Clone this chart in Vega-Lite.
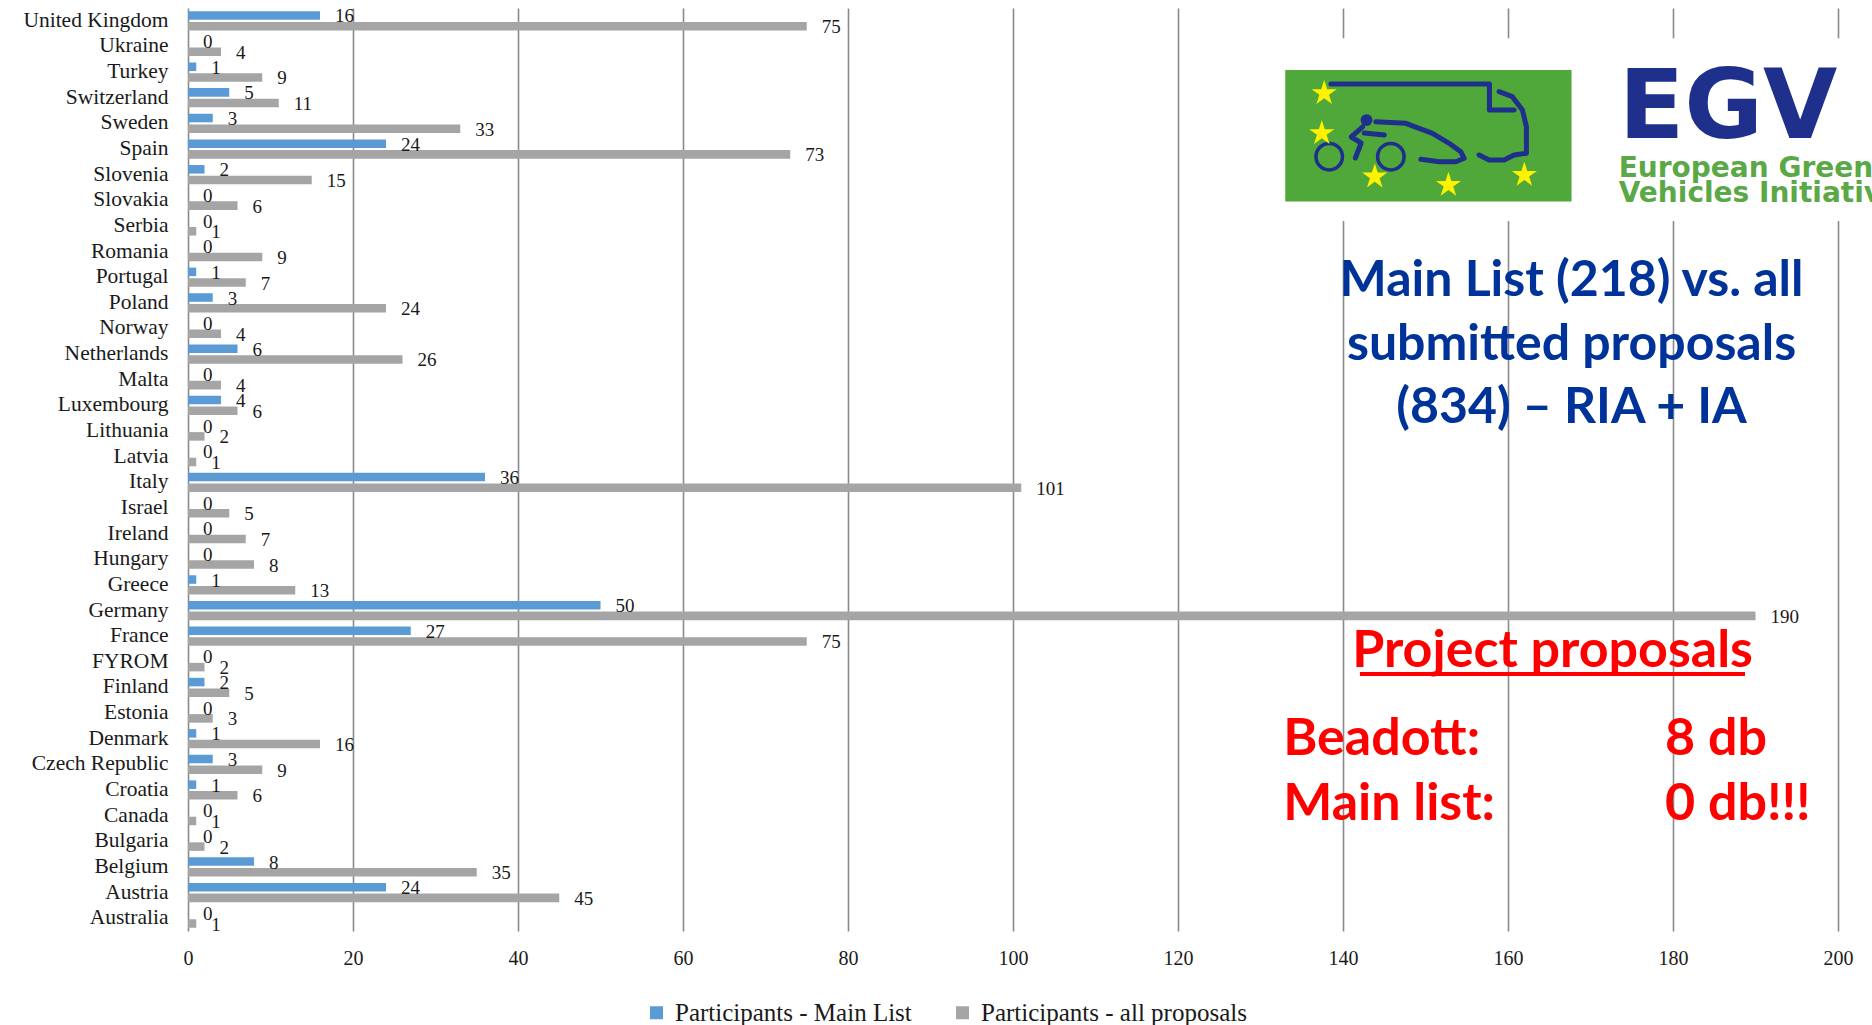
{
  "$schema": "https://vega.github.io/schema/vega-lite/v6.json",
  "autosize": {"type": "none"},
  "padding": {"left": 188, "top": 8, "right": 34, "bottom": 94},
  "width": 1650,
  "height": 923,
  "background": "white",
  "config": {"view": {"stroke": null}},
  "datasets": {
    "bars": [
      {"country": "United Kingdom", "series": "Participants - Main List", "value": 16},
      {"country": "United Kingdom", "series": "Participants - all proposals", "value": 75},
      {"country": "Ukraine", "series": "Participants - Main List", "value": 0},
      {"country": "Ukraine", "series": "Participants - all proposals", "value": 4},
      {"country": "Turkey", "series": "Participants - Main List", "value": 1},
      {"country": "Turkey", "series": "Participants - all proposals", "value": 9},
      {"country": "Switzerland", "series": "Participants - Main List", "value": 5},
      {"country": "Switzerland", "series": "Participants - all proposals", "value": 11},
      {"country": "Sweden", "series": "Participants - Main List", "value": 3},
      {"country": "Sweden", "series": "Participants - all proposals", "value": 33},
      {"country": "Spain", "series": "Participants - Main List", "value": 24},
      {"country": "Spain", "series": "Participants - all proposals", "value": 73},
      {"country": "Slovenia", "series": "Participants - Main List", "value": 2},
      {"country": "Slovenia", "series": "Participants - all proposals", "value": 15},
      {"country": "Slovakia", "series": "Participants - Main List", "value": 0},
      {"country": "Slovakia", "series": "Participants - all proposals", "value": 6},
      {"country": "Serbia", "series": "Participants - Main List", "value": 0},
      {"country": "Serbia", "series": "Participants - all proposals", "value": 1},
      {"country": "Romania", "series": "Participants - Main List", "value": 0},
      {"country": "Romania", "series": "Participants - all proposals", "value": 9},
      {"country": "Portugal", "series": "Participants - Main List", "value": 1},
      {"country": "Portugal", "series": "Participants - all proposals", "value": 7},
      {"country": "Poland", "series": "Participants - Main List", "value": 3},
      {"country": "Poland", "series": "Participants - all proposals", "value": 24},
      {"country": "Norway", "series": "Participants - Main List", "value": 0},
      {"country": "Norway", "series": "Participants - all proposals", "value": 4},
      {"country": "Netherlands", "series": "Participants - Main List", "value": 6},
      {"country": "Netherlands", "series": "Participants - all proposals", "value": 26},
      {"country": "Malta", "series": "Participants - Main List", "value": 0},
      {"country": "Malta", "series": "Participants - all proposals", "value": 4},
      {"country": "Luxembourg", "series": "Participants - Main List", "value": 4},
      {"country": "Luxembourg", "series": "Participants - all proposals", "value": 6},
      {"country": "Lithuania", "series": "Participants - Main List", "value": 0},
      {"country": "Lithuania", "series": "Participants - all proposals", "value": 2},
      {"country": "Latvia", "series": "Participants - Main List", "value": 0},
      {"country": "Latvia", "series": "Participants - all proposals", "value": 1},
      {"country": "Italy", "series": "Participants - Main List", "value": 36},
      {"country": "Italy", "series": "Participants - all proposals", "value": 101},
      {"country": "Israel", "series": "Participants - Main List", "value": 0},
      {"country": "Israel", "series": "Participants - all proposals", "value": 5},
      {"country": "Ireland", "series": "Participants - Main List", "value": 0},
      {"country": "Ireland", "series": "Participants - all proposals", "value": 7},
      {"country": "Hungary", "series": "Participants - Main List", "value": 0},
      {"country": "Hungary", "series": "Participants - all proposals", "value": 8},
      {"country": "Greece", "series": "Participants - Main List", "value": 1},
      {"country": "Greece", "series": "Participants - all proposals", "value": 13},
      {"country": "Germany", "series": "Participants - Main List", "value": 50},
      {"country": "Germany", "series": "Participants - all proposals", "value": 190},
      {"country": "France", "series": "Participants - Main List", "value": 27},
      {"country": "France", "series": "Participants - all proposals", "value": 75},
      {"country": "FYROM", "series": "Participants - Main List", "value": 0},
      {"country": "FYROM", "series": "Participants - all proposals", "value": 2},
      {"country": "Finland", "series": "Participants - Main List", "value": 2},
      {"country": "Finland", "series": "Participants - all proposals", "value": 5},
      {"country": "Estonia", "series": "Participants - Main List", "value": 0},
      {"country": "Estonia", "series": "Participants - all proposals", "value": 3},
      {"country": "Denmark", "series": "Participants - Main List", "value": 1},
      {"country": "Denmark", "series": "Participants - all proposals", "value": 16},
      {"country": "Czech Republic", "series": "Participants - Main List", "value": 3},
      {"country": "Czech Republic", "series": "Participants - all proposals", "value": 9},
      {"country": "Croatia", "series": "Participants - Main List", "value": 1},
      {"country": "Croatia", "series": "Participants - all proposals", "value": 6},
      {"country": "Canada", "series": "Participants - Main List", "value": 0},
      {"country": "Canada", "series": "Participants - all proposals", "value": 1},
      {"country": "Bulgaria", "series": "Participants - Main List", "value": 0},
      {"country": "Bulgaria", "series": "Participants - all proposals", "value": 2},
      {"country": "Belgium", "series": "Participants - Main List", "value": 8},
      {"country": "Belgium", "series": "Participants - all proposals", "value": 35},
      {"country": "Austria", "series": "Participants - Main List", "value": 24},
      {"country": "Austria", "series": "Participants - all proposals", "value": 45},
      {"country": "Australia", "series": "Participants - Main List", "value": 0},
      {"country": "Australia", "series": "Participants - all proposals", "value": 1}
    ],
    "cover": [{"x": 132.7, "x2": 205, "r": 1.18, "r2": 8.31}],
    "greenBox": [{"x": 133.0, "x2": 167.7, "r": 2.42, "r2": 7.55}],
    "stars": [
      {"x": 137.72, "r": 3.327},
      {"x": 137.43, "r": 4.887},
      {"x": 143.85, "r": 6.579},
      {"x": 152.78, "r": 6.903},
      {"x": 161.98, "r": 6.513}
    ],
    "strokes": [
      {"path": "roof", "ord": 1, "x": 138.53, "r": 2.964},
      {"path": "roof", "ord": 2, "x": 157.75, "r": 2.964},
      {"path": "roof", "ord": 3, "x": 157.75, "r": 3.978},
      {"path": "roof", "ord": 4, "x": 160.74, "r": 3.978},
      {"path": "front", "ord": 1, "x": 158.92, "r": 3.264},
      {"path": "front", "ord": 2, "x": 160.53, "r": 3.459},
      {"path": "front", "ord": 3, "x": 161.75, "r": 3.978},
      {"path": "front", "ord": 4, "x": 162.23, "r": 4.629},
      {"path": "front", "ord": 5, "x": 162.23, "r": 5.667},
      {"path": "front", "ord": 6, "x": 160.74, "r": 5.733},
      {"path": "front", "ord": 7, "x": 159.53, "r": 5.928},
      {"path": "front", "ord": 8, "x": 157.71, "r": 5.928},
      {"path": "front", "ord": 9, "x": 156.5, "r": 5.733},
      {"path": "car", "ord": 1, "x": 143.98, "r": 4.434},
      {"path": "car", "ord": 2, "x": 147.62, "r": 4.497},
      {"path": "car", "ord": 3, "x": 150.84, "r": 4.887},
      {"path": "car", "ord": 4, "x": 152.87, "r": 5.277},
      {"path": "car", "ord": 5, "x": 154.28, "r": 5.604},
      {"path": "car", "ord": 6, "x": 154.68, "r": 5.862},
      {"path": "car", "ord": 7, "x": 153.68, "r": 5.995},
      {"path": "car", "ord": 8, "x": 151.66, "r": 5.995},
      {"path": "car", "ord": 9, "x": 149.44, "r": 5.901},
      {"path": "body", "ord": 1, "x": 142.38, "r": 4.641},
      {"path": "body", "ord": 2, "x": 141.0, "r": 5.031},
      {"path": "body", "ord": 3, "x": 142.2, "r": 5.265},
      {"path": "body", "ord": 4, "x": 141.5, "r": 5.85},
      {"path": "arm", "ord": 1, "x": 142.57, "r": 4.875},
      {"path": "arm", "ord": 2, "x": 145.0, "r": 4.953}
    ],
    "wheels": [{"x": 138.33, "r": 5.8}, {"x": 145.8, "r": 5.8}],
    "head": [{"x": 142.85, "r": 4.37}],
    "egv": [{"t": "EGV", "x": 173.42, "r": 5.082}],
    "egvSub": [
      {"t": "European Green", "x": 173.42, "r": 6.58},
      {"t": "Vehicles Initiative", "x": 173.42, "r": 7.554}
    ],
    "title": [
      {"t": "Main List (218) vs. all", "x": 167.7, "r": 11.232},
      {"t": "submitted proposals", "x": 167.7, "r": 13.729},
      {"t": "(834) –  RIA + IA", "x": 167.7, "r": 16.197}
    ],
    "redHead": [{"t": "Project proposals", "x": 165.4, "r": 25.69}],
    "underline": [{"x": 142.05, "x2": 188.73, "r": 25.975}],
    "redText": [
      {"t": "Beadott:", "x": 132.75, "r": 29.13},
      {"t": "8 db", "x": 179.04, "r": 29.13},
      {"t": "Main list:", "x": 132.75, "r": 31.67},
      {"t": "0 db!!!", "x": 179.04, "r": 31.67}
    ]
  },
  "layer": [
    {
      "data": {"name": "bars"},
      "encoding": {
        "y": {
          "field": "country", "type": "nominal", "sort": null,
          "scale": {"paddingInner": 0, "paddingOuter": 0},
          "axis": {"title": null, "ticks": false, "domain": false, "labelPadding": 20,
                   "labelFont": "Liberation Serif", "labelFontSize": 21.5, "labelColor": "#1a1a1a"}
        },
        "yOffset": {
          "field": "series", "type": "nominal",
          "sort": ["Participants - Main List", "Participants - all proposals"],
          "scale": {"paddingInner": 0.2, "paddingOuter": 0.3}
        },
        "x": {
          "field": "value", "type": "quantitative",
          "scale": {"domain": [0, 200], "nice": false},
          "axis": {"title": null, "values": [0, 20, 40, 60, 80, 100, 120, 140, 160, 180, 200],
                   "ticks": false, "domain": false, "grid": true, "gridColor": "#8a8a8a", "gridWidth": 1.6,
                   "labelFlush": false, "labelOverlap": false,
                   "labelPadding": 17, "labelFont": "Liberation Serif", "labelFontSize": 20, "labelColor": "#1a1a1a"}
        }
      },
      "layer": [
        {
          "mark": {"type": "bar"},
          "encoding": {
            "color": {
              "field": "series", "type": "nominal",
              "scale": {"domain": ["Participants - Main List", "Participants - all proposals"], "range": ["#5B9BD5", "#A5A5A5"]},
              "legend": {"orient": "none", "direction": "horizontal", "legendX": 456, "legendY": 992,
                         "title": null, "symbolType": "square", "symbolSize": 169, "symbolStrokeWidth": 0,
                         "labelFont": "Liberation Serif", "labelFontSize": 25, "labelColor": "#1a1a1a",
                         "labelLimit": 400, "columnPadding": 38, "labelOffset": 6}
            }
          }
        },
        {
          "mark": {"type": "text", "align": "left", "baseline": "middle", "dx": 15, "dy": 1,
                   "font": "Liberation Serif", "fontSize": 19, "color": "#1a1a1a"},
          "encoding": {"text": {"field": "value", "type": "quantitative"}}
        }
      ]
    },
    {
      "encoding": {
        "x": {"field": "x", "type": "quantitative", "scale": {"domain": [0, 200], "nice": false}, "axis": null},
        "y": {"field": "r", "type": "quantitative", "scale": {"domain": [36, 0], "nice": false, "zero": false}, "axis": null}
      },
      "layer": [
        {
          "data": {"name": "cover"},
          "mark": {"type": "rect", "color": "white"},
          "encoding": {"x2": {"field": "x2"}, "y2": {"field": "r2"}}
        },
        {
          "data": {"name": "greenBox"},
          "mark": {"type": "rect", "color": "#50A83B"},
          "encoding": {"x2": {"field": "x2"}, "y2": {"field": "r2"}}
        },
        {
          "data": {"name": "strokes"},
          "mark": {"type": "line", "color": "#1E2F8C", "strokeWidth": 5, "strokeCap": "round", "strokeJoin": "round", "interpolate": "linear"},
          "encoding": {"detail": {"field": "path"}, "order": {"field": "ord"}}
        },
        {
          "data": {"name": "wheels"},
          "mark": {"type": "point", "shape": "circle", "filled": false, "size": 700, "strokeWidth": 3.5, "color": "#1E2F8C", "opacity": 1}
        },
        {
          "data": {"name": "head"},
          "mark": {"type": "point", "shape": "circle", "filled": true, "size": 140, "color": "#1E2F8C", "opacity": 1}
        },
        {
          "data": {"name": "stars"},
          "mark": {"type": "point", "filled": true, "size": 700, "color": "#FFF200", "opacity": 1,
                   "shape": "M0,-1L0.2245,-0.309L0.951,-0.309L0.363,0.118L0.588,0.809L0,0.382L-0.588,0.809L-0.363,0.118L-0.951,-0.309L-0.2245,-0.309Z"}
        },
        {
          "data": {"name": "egv"},
          "mark": {"type": "text", "align": "left", "baseline": "alphabetic", "font": "DejaVu Sans", "fontWeight": "bold", "fontSize": 96, "color": "#1E2F8C"},
          "encoding": {"text": {"field": "t"}}
        },
        {
          "data": {"name": "egvSub"},
          "mark": {"type": "text", "align": "left", "baseline": "alphabetic", "font": "DejaVu Sans", "fontWeight": "bold", "fontSize": 28, "color": "#5AA846"},
          "encoding": {"text": {"field": "t"}}
        },
        {
          "data": {"name": "title"},
          "mark": {"type": "text", "align": "center", "baseline": "alphabetic", "font": "Lato", "fontWeight": "bold", "fontSize": 50, "color": "#003399"},
          "encoding": {"text": {"field": "t"}}
        },
        {
          "data": {"name": "redHead"},
          "mark": {"type": "text", "align": "center", "baseline": "alphabetic", "font": "Lato", "fontWeight": "bold", "fontSize": 52, "color": "#FF0000"},
          "encoding": {"text": {"field": "t"}}
        },
        {
          "data": {"name": "underline"},
          "mark": {"type": "rule", "color": "#FF0000", "strokeWidth": 4},
          "encoding": {"x2": {"field": "x2"}}
        },
        {
          "data": {"name": "redText"},
          "mark": {"type": "text", "align": "left", "baseline": "alphabetic", "font": "Lato", "fontWeight": "bold", "fontSize": 52, "color": "#FF0000"},
          "encoding": {"text": {"field": "t"}}
        }
      ]
    }
  ],
  "resolve": {"scale": {"x": "independent", "y": "independent"}}
}
